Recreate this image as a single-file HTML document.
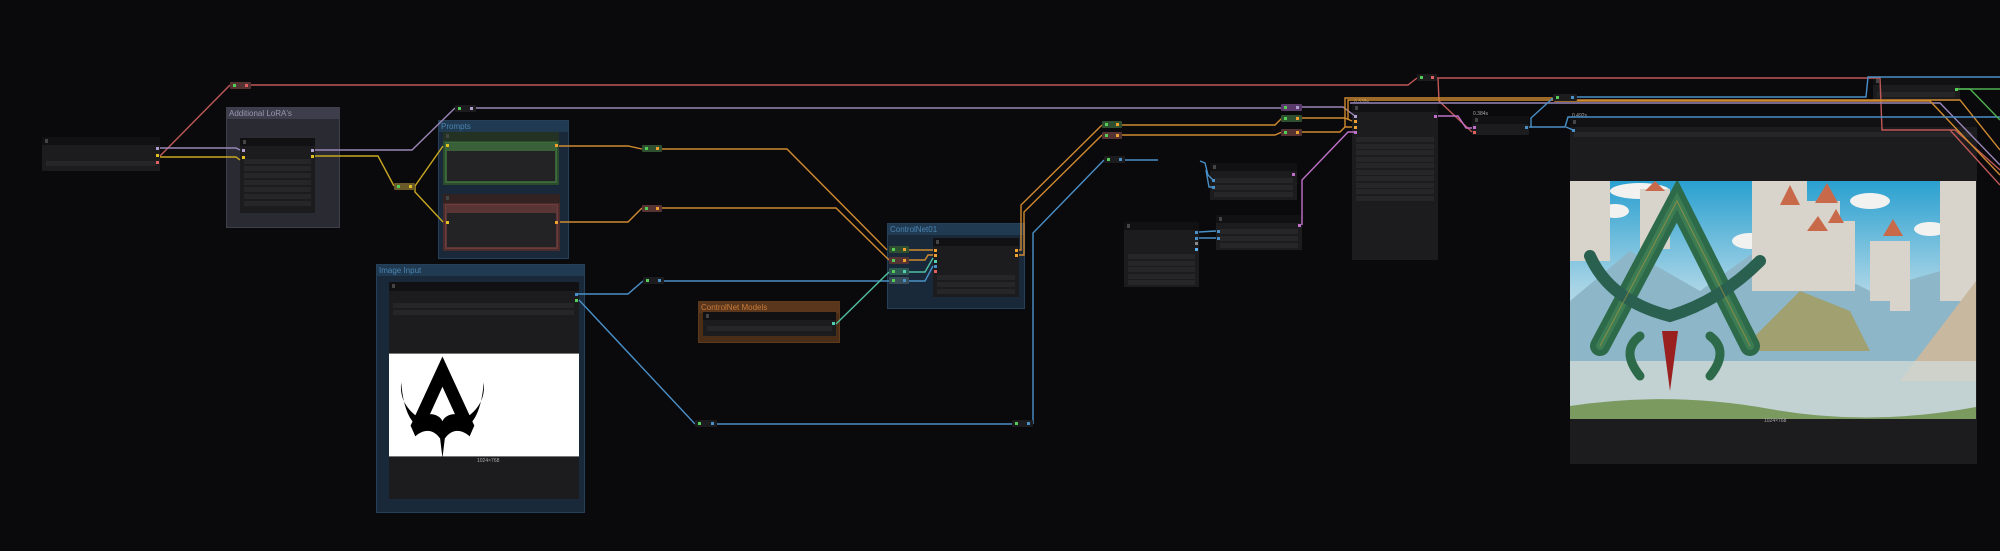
<!DOCTYPE html>
<html><head><meta charset="utf-8">
<style>
html,body{margin:0;padding:0;background:#0a0a0c;width:2000px;height:551px;overflow:hidden;font-family:"Liberation Sans",sans-serif;}
.a{position:absolute;box-sizing:border-box;}
.grp{position:absolute;box-sizing:border-box;}
.gt{position:absolute;left:0;top:0;right:0;height:11px;font-size:8px;line-height:11px;padding-left:2px;}
.node{position:absolute;box-sizing:border-box;background:#1c1c1e;}
.nt{position:absolute;left:0;top:0;right:0;height:8px;background:#111113;}
.nt:before{content:"";position:absolute;left:3px;top:2px;width:3px;height:4px;background:#444;}
.w{position:absolute;background:#262628;height:5px;}
.rr{position:absolute;height:7px;border-radius:1px;--c:#4a90c8;}
.rr:before{content:"";position:absolute;left:3px;top:2px;width:3px;height:3px;background:#5c5;}
.rr:after{content:"";position:absolute;right:3px;top:2px;width:3px;height:3px;background:var(--c);}
.p{position:absolute;width:3px;height:3px;}
.lbl{position:absolute;font-size:5px;color:#aaa;}
</style></head><body>

<!-- groups -->
<div class="grp" style="left:226px;top:107px;width:114px;height:121px;background:#2a2a33;border:1px solid #3e3e4c;">
  <div class="gt" style="background:#3d3d4b;color:#9898b0;">Additional LoRA's</div></div>
<div class="grp" style="left:438px;top:120px;width:131px;height:139px;background:#19293a;border:1px solid #24405a;">
  <div class="gt" style="background:#203a52;color:#4a84b0;">Prompts</div></div>
<div class="grp" style="left:376px;top:264px;width:209px;height:249px;background:#19293a;border:1px solid #24405a;">
  <div class="gt" style="background:#203a52;color:#4a84b0;">Image Input</div></div>
<div class="grp" style="left:698px;top:301px;width:142px;height:42px;background:#4a2d17;border:1px solid #5e3a1c;">
  <div class="gt" style="background:#5a371c;color:#c87a38;">ControlNet Models</div></div>
<div class="grp" style="left:887px;top:223px;width:138px;height:86px;background:#19293a;border:1px solid #24405a;">
  <div class="gt" style="background:#203a52;color:#4a84b0;">ControlNet01</div></div>

<!-- nodes -->
<div class="node" style="left:42px;top:137px;width:118px;height:34px;"><div class="nt"></div><div class="w" style="left:4px;top:24px;width:110px;"></div></div>
<div class="node" style="left:240px;top:138px;width:75px;height:75px;"><div class="nt"></div>
 <div class="w" style="left:4px;top:21px;width:67px;"></div><div class="w" style="left:4px;top:28px;width:67px;"></div><div class="w" style="left:4px;top:35px;width:67px;"></div><div class="w" style="left:4px;top:42px;width:67px;"></div><div class="w" style="left:4px;top:49px;width:67px;"></div><div class="w" style="left:4px;top:56px;width:67px;"></div><div class="w" style="left:4px;top:63px;width:67px;"></div></div>
<div class="node" style="left:443px;top:132px;width:116px;height:53px;background:#2c4a2c;"><div class="nt" style="background:#233223;height:9px;"></div><div class="a" style="left:2px;top:10px;right:2px;bottom:2px;border:1px solid #3d6d3d;background:#3a603a;"></div><div class="a" style="left:4px;top:19px;right:4px;bottom:4px;background:#232325;"></div></div>
<div class="node" style="left:443px;top:194px;width:117px;height:57px;background:#4a2c2c;"><div class="nt" style="background:#332222;height:9px;"></div><div class="a" style="left:2px;top:10px;right:2px;bottom:2px;border:1px solid #6d3d3d;background:#5a3535;"></div><div class="a" style="left:4px;top:19px;right:4px;bottom:4px;background:#232325;"></div></div>
<div class="node" style="left:389px;top:282px;width:190px;height:217px;"><div class="nt" style="height:9px;"></div>
 <div class="w" style="left:4px;top:21px;width:181px;"></div><div class="w" style="left:4px;top:28px;width:181px;"></div>
 <div class="a" style="left:0;top:71px;width:190px;height:104px;background:#fff;border-top:1px solid #777;border-bottom:1px solid #777;">
  <svg width="190" height="104" viewBox="0 0 190 104"><g fill="#000" transform="translate(-2,-4) scale(1.18,1.08)">
   <path d="M47 6 L20 70 L32 70 L47 34 L62 70 L74 70 Z"/>
   <path d="M12 30 C10 50 22 60 34 68 L30 74 C20 68 14 56 12 30 Z"/>
   <path d="M82 30 C84 50 72 60 60 68 L64 74 C74 68 80 56 82 30 Z"/>
   <path d="M20 70 C30 55 44 58 47 66 C50 58 64 55 74 70 L70 80 C62 72 54 74 49 82 L47 100 L45 82 C40 74 32 72 24 80 Z"/>
  </g></svg></div>
 <div class="lbl" style="left:88px;top:176px;">1024×768</div></div>
<div class="node" style="left:703px;top:312px;width:133px;height:24px;"><div class="nt"></div><div class="w" style="left:4px;top:14px;width:125px;"></div></div>
<div class="node" style="left:933px;top:238px;width:86px;height:59px;"><div class="nt"></div><div class="w" style="left:4px;top:37px;width:78px;"></div><div class="w" style="left:4px;top:44px;width:78px;"></div><div class="w" style="left:4px;top:51px;width:78px;"></div></div>
<div class="node" style="left:1210px;top:163px;width:87px;height:37px;"><div class="nt"></div><div class="w" style="left:4px;top:15px;width:79px;"></div><div class="w" style="left:4px;top:22px;width:79px;"></div><div class="w" style="left:4px;top:29px;width:79px;"></div></div>
<div class="node" style="left:1124px;top:222px;width:75px;height:65px;"><div class="nt"></div>
 <div class="w" style="left:4px;top:32px;width:67px;"></div><div class="w" style="left:4px;top:39px;width:67px;"></div><div class="w" style="left:4px;top:45px;width:67px;"></div><div class="w" style="left:4px;top:52px;width:67px;"></div><div class="w" style="left:4px;top:58px;width:67px;"></div></div>
<div class="node" style="left:1216px;top:215px;width:86px;height:35px;"><div class="nt"></div><div class="w" style="left:4px;top:14px;width:78px;"></div><div class="w" style="left:4px;top:21px;width:78px;"></div><div class="w" style="left:4px;top:28px;width:78px;"></div></div>
<div class="node" style="left:1352px;top:104px;width:86px;height:156px;"><div class="nt"></div>
 <div class="w" style="left:4px;top:33px;width:78px;"></div><div class="w" style="left:4px;top:40px;width:78px;"></div><div class="w" style="left:4px;top:46px;width:78px;"></div><div class="w" style="left:4px;top:53px;width:78px;"></div><div class="w" style="left:4px;top:59px;width:78px;"></div><div class="w" style="left:4px;top:66px;width:78px;"></div><div class="w" style="left:4px;top:72px;width:78px;"></div><div class="w" style="left:4px;top:79px;width:78px;"></div><div class="w" style="left:4px;top:85px;width:78px;"></div><div class="w" style="left:4px;top:92px;width:78px;"></div></div>
<div class="lbl" style="left:1354px;top:99px;">0.335s</div>
<div class="node" style="left:1472px;top:116px;width:57px;height:19px;"><div class="nt"></div></div>
<div class="lbl" style="left:1473px;top:111px;">0.384s</div>
<div class="node" style="left:1873px;top:77px;width:87px;height:24px;"><div class="nt"></div><div class="w" style="left:4px;top:15px;width:78px;"></div></div>
<div class="node" style="left:1570px;top:118px;width:407px;height:346px;"><div class="nt" style="height:9px;"></div>
 <div class="w" style="left:4px;top:14px;width:398px;"></div>
 <div class="a" style="left:0;top:63px;width:406px;height:238px;overflow:hidden;">
 <svg width="406" height="238" viewBox="0 0 406 238">
  <defs><linearGradient id="sk" x1="0" y1="0" x2="0" y2="1"><stop offset="0" stop-color="#2aa0d0"/><stop offset="0.45" stop-color="#a8d4e6"/><stop offset="0.7" stop-color="#c7dbe2"/><stop offset="1" stop-color="#b8c8b0"/></linearGradient></defs>
  <rect width="406" height="238" fill="url(#sk)"/>
  <g fill="#f2f2f0"><ellipse cx="70" cy="10" rx="30" ry="8"/><ellipse cx="300" cy="20" rx="20" ry="8"/><ellipse cx="360" cy="48" rx="16" ry="7"/><ellipse cx="45" cy="30" rx="14" ry="7"/><ellipse cx="180" cy="60" rx="18" ry="8"/></g>
  <g fill="#8db6c8"><path d="M0 120 L60 70 L130 110 L200 60 L300 110 L406 80 L406 238 L0 238Z"/></g>
  <g fill="#d8d4cc"><rect x="0" y="0" width="40" height="80"/><rect x="70" y="8" width="30" height="60"/><rect x="182" y="0" width="55" height="110"/><rect x="230" y="20" width="40" height="90"/><rect x="300" y="60" width="40" height="60"/><rect x="370" y="0" width="36" height="120"/><rect x="260" y="40" width="25" height="70"/><rect x="320" y="75" width="20" height="55"/></g>
  <g fill="#c86a4a"><path d="M210 24 L220 4 L230 24Z"/><path d="M245 22 L257 2 L268 22Z"/><path d="M237 50 L248 35 L258 50Z"/><path d="M313 55 L323 38 L333 55Z"/><path d="M75 10 L85 0 L95 10Z"/><path d="M258 42 L266 28 L274 42Z"/></g>
  <path d="M170 170 L230 110 L280 130 L300 170Z" fill="#a0a070"/>
  <path d="M330 200 L406 100 L406 200Z" fill="#c8b8a0"/>
  <rect x="0" y="180" width="406" height="58" fill="#d0d8d4" opacity="0.8"/>
  <path d="M0 225 Q100 210 200 228 T406 226 L406 238 L0 238Z" fill="#7a9a60"/>
  <g fill="none" stroke-linecap="round">
   <path d="M30 165 L107 20 L180 165" stroke="#2d6a4a" stroke-width="20"/>
   <path d="M30 165 L107 20 L180 165" stroke="#4a8a5a" stroke-width="8" opacity="0.6"/>
   <path d="M20 75 Q40 120 100 135 Q150 120 190 80" stroke="#2a6050" stroke-width="12"/>
   <path d="M70 155 Q50 170 70 195" stroke="#2d6a4a" stroke-width="9"/>
   <path d="M140 155 Q160 170 140 195" stroke="#2d6a4a" stroke-width="9"/>
   <path d="M30 165 L107 20 L180 165" stroke="#b89a40" stroke-width="1" opacity="0.6"/>
  </g>
  <path d="M92 150 L100 210 L108 150Z" fill="#9a2020"/>
 </svg></div>
 <div class="lbl" style="left:194px;top:300px;">1024×768</div></div>
<div class="lbl" style="left:1572px;top:113px;">0.492s</div>

<!-- wires -->
<svg class="a" style="left:0;top:0;" width="2000" height="551" fill="none" stroke-width="1.4">
 <g stroke="#c05858"><polyline points="160,156 230,85"/><polyline points="251,85 1408,85 1417,78"/><polyline points="1437,78 1880,78 1882,130 1955,130 2000,170"/><polyline points="1438,78 1439,101 1472,132"/><polyline points="1950,130 2000,185"/></g>
 <g stroke="#9a86b8"><polyline points="160,148 236,148 240,150"/><polyline points="315,150 412,150 455,108"/><polyline points="476,108 1282,108"/><polyline points="1302,107 1343,107 1355,116"/><polyline points="1350,103 1940,103 2000,165"/></g>
 <g stroke="#c8a820"><polyline points="160,157 236,157 240,160"/><polyline points="315,156 378,156 394,186"/><polyline points="415,186 443,146"/><polyline points="415,186 415,192 443,222"/></g>
 <g stroke="#d08a30"><polyline points="559,146 628,146 642,149"/><polyline points="662,149 787,149 887,250"/><polyline points="560,222 628,222 642,208"/><polyline points="662,208 836,208 889,260"/>
  <polyline points="909,250 933,250"/><polyline points="909,260 925,260 928,255 933,255"/>
  <polyline points="1019,250 1021,250 1021,205 1102,125"/><polyline points="1019,255 1024,255 1024,212 1102,135"/>
  <polyline points="1122,125 1275,125 1282,118"/><polyline points="1122,135 1275,135 1282,132"/>
  <polyline points="1302,118 1345,118 1352,121"/><polyline points="1302,132 1340,132 1345,127 1352,127"/>
  <polyline points="1345,127 1345,98 1552,98 1555,101 1930,101 2000,175"/><polyline points="1348,120 1348,100 1960,100 2000,150"/></g>
 <g stroke="#4a90c8"><polyline points="577,294 628,294 643,281"/><polyline points="664,281 889,281"/><polyline points="579,300 695,424"/><polyline points="717,424 1012,424"/><polyline points="1033,424 1033,233 1104,160"/><polyline points="1125,160 1158,160"/>
  <polyline points="1200,161 1205,163 1208,175 1213,180"/><polyline points="1206,170 1209,187 1213,187"/><polyline points="1199,232 1216,231"/><polyline points="1199,238 1216,238"/>
  <polyline points="1529,127 1531,127 1531,118 1553,98"/><polyline points="1576,97 1866,97 1868,77 2000,77"/><polyline points="1531,127 1565,127 1568,117 2000,117"/><polyline points="1566,127 1573,130"/><polyline points="909,281 925,281 933,266"/></g>
 <polyline stroke="#50c0a0" points="836,324 889,272"/><polyline stroke="#50c0a0" points="909,272 925,272 933,258"/>
 <g stroke="#c070c8"><polyline points="1302,225 1302,180 1348,132 1355,132"/><polyline points="1438,116 1458,116 1466,128 1472,128"/></g>
 <polyline stroke="#50b050" points="1958,89 2000,89"/><polyline stroke="#50b050" points="1958,89 1970,89 2000,120"/>
</svg>

<!-- reroutes -->
<div class="rr" style="left:230px;top:82px;width:21px;background:#553333;--c:#e06060;"></div>
<div class="rr" style="left:455px;top:105px;width:21px;background:#1c1c1e;--c:#b0a0d0;"></div>
<div class="rr" style="left:394px;top:183px;width:21px;background:#6a5a2a;--c:#e0c020;"></div>
<div class="rr" style="left:642px;top:145px;width:20px;background:#2f5030;--c:#f0a030;"></div>
<div class="rr" style="left:642px;top:205px;width:20px;background:#553333;--c:#f0a030;"></div>
<div class="rr" style="left:643px;top:277px;width:21px;background:#1c1c1e;"></div>
<div class="rr" style="left:695px;top:420px;width:22px;background:#1c1c1e;"></div>
<div class="rr" style="left:1012px;top:420px;width:21px;background:#1c1c1e;"></div>
<div class="rr" style="left:889px;top:246px;width:20px;background:#2f5030;--c:#f0a030;"></div>
<div class="rr" style="left:889px;top:257px;width:20px;background:#553333;--c:#f0a030;"></div>
<div class="rr" style="left:889px;top:268px;width:20px;background:#2f5a54;--c:#50d0b0;"></div>
<div class="rr" style="left:889px;top:277px;width:20px;background:#3a4e5a;"></div>
<div class="rr" style="left:1102px;top:121px;width:20px;background:#2f5030;--c:#f0a030;"></div>
<div class="rr" style="left:1102px;top:132px;width:20px;background:#553333;--c:#f0a030;"></div>
<div class="rr" style="left:1104px;top:156px;width:21px;background:#1c1c1e;"></div>
<div class="rr" style="left:1281px;top:104px;width:21px;background:#5a3a6a;--c:#b0a0d0;"></div>
<div class="rr" style="left:1281px;top:115px;width:21px;background:#2f5030;--c:#f0a030;"></div>
<div class="rr" style="left:1281px;top:129px;width:21px;background:#553333;--c:#f0a030;"></div>
<div class="rr" style="left:1417px;top:74px;width:20px;background:#1c1c1e;--c:#e06060;"></div>
<div class="rr" style="left:1553px;top:94px;width:24px;background:#1c1c1e;"></div>

<!-- node ports -->
<div class="p" style="left:156px;top:147px;background:#b0a0d0;"></div>
<div class="p" style="left:156px;top:154px;background:#e0c020;"></div>
<div class="p" style="left:156px;top:161px;background:#e06060;"></div>
<div class="p" style="left:242px;top:149px;background:#b0a0d0;"></div>
<div class="p" style="left:242px;top:156px;background:#e0c020;"></div>
<div class="p" style="left:311px;top:149px;background:#b0a0d0;"></div>
<div class="p" style="left:311px;top:155px;background:#e0c020;"></div>
<div class="p" style="left:446px;top:144px;background:#e0c020;"></div>
<div class="p" style="left:555px;top:144px;background:#f0a030;"></div>
<div class="p" style="left:446px;top:221px;background:#e0c020;"></div>
<div class="p" style="left:555px;top:221px;background:#f0a030;"></div>
<div class="p" style="left:575px;top:293px;background:#4a90c8;"></div>
<div class="p" style="left:575px;top:299px;background:#5c5;"></div>
<div class="p" style="left:832px;top:322px;background:#50d0b0;"></div>
<div class="p" style="left:934px;top:249px;background:#f0a030;"></div>
<div class="p" style="left:934px;top:254px;background:#f0a030;"></div>
<div class="p" style="left:934px;top:260px;background:#50d0b0;"></div>
<div class="p" style="left:934px;top:265px;background:#4a90c8;"></div>
<div class="p" style="left:934px;top:270px;background:#e06060;"></div>
<div class="p" style="left:1015px;top:249px;background:#f0a030;"></div>
<div class="p" style="left:1015px;top:254px;background:#f0a030;"></div>
<div class="p" style="left:1354px;top:115px;background:#b0a0d0;"></div>
<div class="p" style="left:1354px;top:120px;background:#f0a030;"></div>
<div class="p" style="left:1354px;top:126px;background:#f0a030;"></div>
<div class="p" style="left:1354px;top:131px;background:#c070c8;"></div>
<div class="p" style="left:1434px;top:115px;background:#c070c8;"></div>
<div class="p" style="left:1473px;top:126px;background:#c070c8;"></div>
<div class="p" style="left:1473px;top:131px;background:#e06060;"></div>
<div class="p" style="left:1525px;top:126px;background:#4a90c8;"></div>
<div class="p" style="left:1572px;top:129px;background:#4a90c8;"></div>
<div class="p" style="left:1955px;top:88px;background:#5c5;"></div>
<div class="p" style="left:1292px;top:173px;background:#c070c8;"></div>
<div class="p" style="left:1298px;top:224px;background:#c070c8;"></div>
<div class="p" style="left:1212px;top:179px;background:#4a90c8;"></div>
<div class="p" style="left:1212px;top:186px;background:#4a90c8;"></div>
<div class="p" style="left:1195px;top:231px;background:#4a90c8;"></div>
<div class="p" style="left:1195px;top:237px;background:#4a90c8;"></div>
<div class="p" style="left:1195px;top:242px;background:#888;"></div>
<div class="p" style="left:1195px;top:248px;background:#5ab0f0;"></div>
<div class="p" style="left:1217px;top:230px;background:#4a90c8;"></div>
<div class="p" style="left:1217px;top:237px;background:#4a90c8;"></div>
</body></html>
